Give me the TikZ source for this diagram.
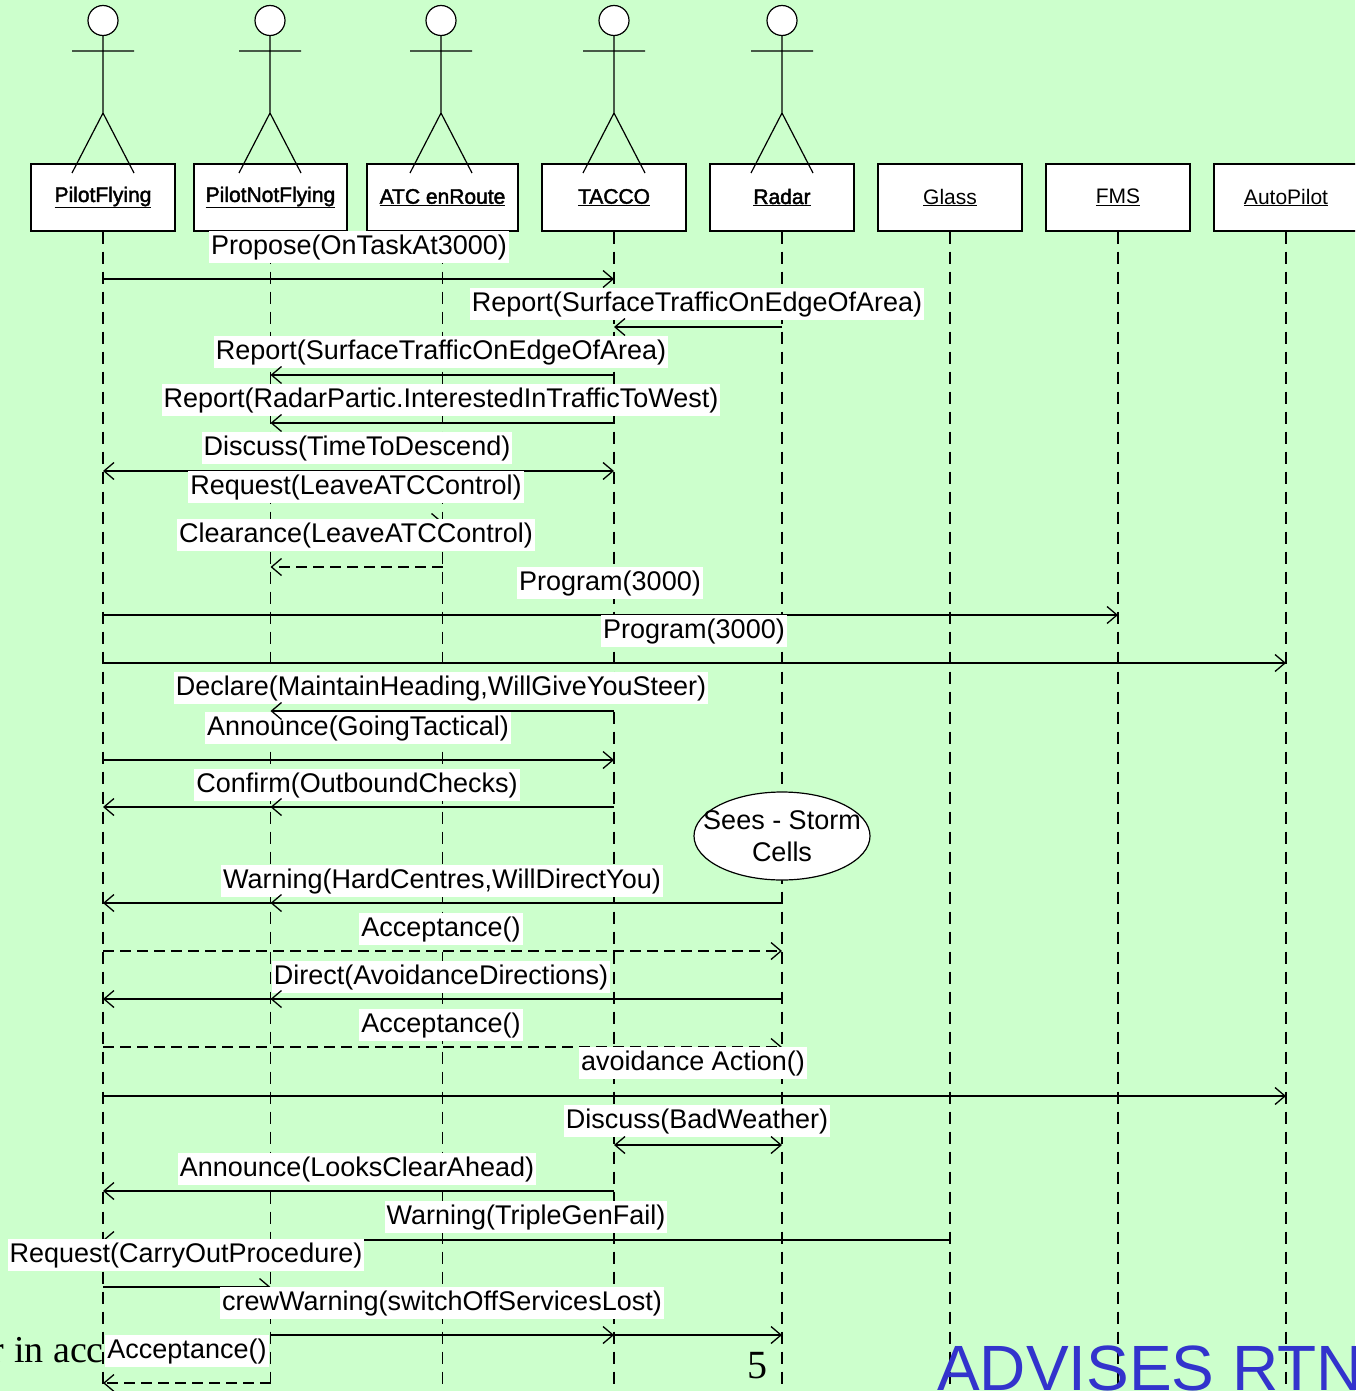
\documentclass[tikz,border=0pt]{standalone}
\usepackage{fontspec}
\setmainfont{Liberation Sans}
\newfontfamily\seriffont{Liberation Serif}
\newfontfamily\fakeboldfont[FakeBold=2]{Liberation Sans}
\usetikzlibrary{arrows.meta,shapes.geometric}
\definecolor{bg}{RGB}{204,255,204}
\definecolor{advblue}{RGB}{51,51,204}
\begin{document}
\begin{tikzpicture}[x=1pt,y=-1pt,
  hdr/.style={draw=black, line width=1.3pt, fill=white, minimum height=67pt, inner sep=0pt, font=\fontsize{21}{25}\selectfont},
  bhdr/.style={hdr, font=\fakeboldfont\fontsize{21}{25}\selectfont},
  lifeline/.style={line width=1.2pt, dash pattern=on 12pt off 8pt},
  msg/.style={line width=1.3pt, -{Straight Barb[length=10pt,width=17pt]}},
  dmsg/.style={line width=1.3pt, {Straight Barb[length=10pt,width=17pt]}-{Straight Barb[length=10pt,width=17pt]}},
  reply/.style={msg, dash pattern=on 11pt off 6pt},
  lbl/.style={fill=white, inner xsep=2pt, inner ysep=0pt, minimum height=32pt, text height=20pt, text depth=6pt, font=\fontsize{27}{32}\selectfont},
  pics/actorfig/.style={code={
    \draw[line width=1.2pt, fill=white] (0,20.5) circle[radius=15pt];
    \draw[line width=1.2pt] (-31,51) -- (31,51) (0,35.5) -- (0,113) (-31,173) -- (0,113) -- (31,173);
  }}]
\useasboundingbox (0,0) rectangle (1355,1391);
\clip (0,0) rectangle (1355,1391);
\fill[bg] (0,0) rectangle (1355,1391);

% header boxes
\node[bhdr, minimum width=144pt] (pf) at (103,197.5) {\underline{PilotFlying}};
\node[bhdr, minimum width=153pt] (pnf) at (270.5,197.5) {\underline{PilotNotFlying}};
\node[bhdr, minimum width=151pt] (atc) at (442.5,197.5) {\underline{ATC enRoute}};
\node[bhdr, minimum width=144pt] (tacco) at (614,197.5) {\underline{TACCO}};
\node[bhdr, minimum width=144pt] (radar) at (782,197.5) {\underline{Radar}};
\node[hdr, minimum width=144pt] (glass) at (950,197.5) {\underline{Glass}};
\node[hdr, minimum width=144pt] (fms) at (1118,197.5) {\underline{FMS}};
\node[hdr, minimum width=144pt] (ap) at (1286,197.5) {\underline{AutoPilot}};

% actors
\pic at (103,0) {actorfig};
\pic at (270,0) {actorfig};
\pic at (441,0) {actorfig};
\pic at (614,0) {actorfig};
\pic at (782,0) {actorfig};

% lifelines
\foreach \n in {pf,pnf,atc,tacco,radar,glass,fms,ap}
  \draw[lifeline] (\n.south) -- (\n.south |- 0,1391);

\coordinate (storm) at (782,836);

% messages
\node[lbl] (m1) at (359,247) {Propose(OnTaskAt3000)};
\draw[msg] (pf |- 0,279) -- (tacco |- 0,279);
\node[lbl] (m2) at (697,304) {Report(SurfaceTrafficOnEdgeOfArea)};
\draw[msg] (radar |- 0,327) -- (tacco |- 0,327);
\node[lbl] (m3) at (441,352) {Report(SurfaceTrafficOnEdgeOfArea)};
\draw[msg] (tacco |- 0,375) -- (pnf |- 0,375);
\node[lbl] (m4) at (441,400) {Report(RadarPartic.InterestedInTrafficToWest)};
\draw[msg] (tacco |- 0,423) -- (pnf |- 0,423);
\node[lbl] (m5) at (357,448) {Discuss(TimeToDescend)};
\draw[dmsg] (pf |- 0,471) -- (tacco |- 0,471);
\node[lbl] (m6) at (356,487) {Request(LeaveATCControl)};
\draw[msg] (pnf |- 0,522) -- (atc |- 0,522);
\node[lbl] (m7) at (356,535) {Clearance(LeaveATCControl)};
\draw[reply] (atc |- 0,567) -- (pnf |- 0,567);
\node[lbl] (m8) at (610,583) {Program(3000)};
\draw[msg] (pf |- 0,615) -- (fms |- 0,615);
\node[lbl] (m9) at (694,631) {Program(3000)};
\draw[msg] (pf |- 0,663) -- (ap |- 0,663);
\node[lbl] (m10) at (441,688) {Declare(MaintainHeading,WillGiveYouSteer)};
\node[lbl] (m11) at (358,728) {Announce(GoingTactical)};
\draw[msg] (tacco |- 0,711) -- (pnf |- 0,711);
\draw[msg] (pf |- 0,760) -- (tacco |- 0,760);
\node[lbl] (m12) at (357,785) {Confirm(OutboundChecks)};
\draw[msg] (tacco |- 0,807) -- (pf |- 0,807);
\draw[msg] (tacco |- 0,807) -- (pnf |- 0,807);
\draw[line width=1.2pt, fill=white] (storm) ellipse[x radius=88pt, y radius=44pt];
\node[inner sep=0pt, align=center, font=\fontsize{27}{32}\selectfont] (stormtxt) at (storm) {Sees - Storm\\Cells};
\node[lbl] (m13) at (442,881) {Warning(HardCentres,WillDirectYou)};
\draw[msg] (radar |- 0,903) -- (pf |- 0,903);
\draw[msg] (radar |- 0,903) -- (pnf |- 0,903);
\node[lbl] (m14) at (441,929) {Acceptance()};
\draw[reply] (pf |- 0,951) -- (radar |- 0,951);
\node[lbl] (m15) at (441,977) {Direct(AvoidanceDirections)};
\draw[msg] (radar |- 0,999) -- (pf |- 0,999);
\draw[msg] (radar |- 0,999) -- (pnf |- 0,999);
\node[lbl] (m16) at (441,1025) {Acceptance()};
\draw[reply] (pf |- 0,1047) -- (radar |- 0,1047);
\node[lbl] (m17) at (693,1063) {avoidance Action()};
\draw[msg] (pf |- 0,1096) -- (ap |- 0,1096);
\node[lbl] (m18) at (697,1121) {Discuss(BadWeather)};
\draw[dmsg] (tacco |- 0,1145) -- (radar |- 0,1145);
\node[lbl] (m19) at (357,1169) {Announce(LooksClearAhead)};
\draw[msg] (tacco |- 0,1191) -- (pf |- 0,1191);
\node[lbl] (m20) at (526,1217) {Warning(TripleGenFail)};
\draw[msg] (glass |- 0,1240) -- (pf |- 0,1240);
\node[lbl] (m21) at (186,1255) {Request(CarryOutProcedure)};
\draw[msg] (pf |- 0,1287) -- (pnf |- 0,1287);
\node[lbl] (m22) at (442,1303) {crewWarning(switchOffServicesLost)};
\draw[msg] (pnf |- 0,1335) -- (tacco |- 0,1335);
\draw[msg] (pnf |- 0,1335) -- (radar |- 0,1335);
\node[lbl] (m23) at (187,1351) {Acceptance()};
\draw[reply] (pnf |- 0,1383) -- (pf |- 0,1383);

% stray slide text
\node[anchor=base east, inner sep=0pt, font=\seriffont\fontsize{38}{44}\selectfont] (acc) at (104,1362) {r in acc};
\node[anchor=base, inner sep=0pt, font=\seriffont\fontsize{40}{46}\selectfont] (pg) at (757,1378) {5};
\node[anchor=base west, inner sep=0pt, text=advblue, font=\fontsize{64}{70}\selectfont] (adv) at (937,1390) {ADVISES RTN};
\end{tikzpicture}
\end{document}
